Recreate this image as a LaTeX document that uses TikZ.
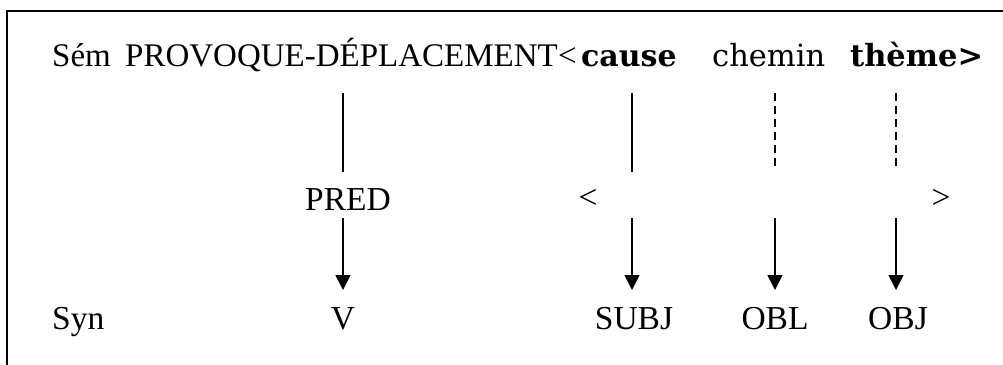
\documentclass[tikz,border=0pt]{standalone}
\usepackage{fontspec}
\setmainfont{Liberation Serif}
\newfontfamily\geo{DejaVu Serif}
\usetikzlibrary{arrows.meta}
\begin{document}
\begin{tikzpicture}[x=1pt,y=-1pt,
  lw/.style={inner sep=0pt, anchor=base west, font=\fontsize{33}{40}\selectfont},
  gw/.style={inner sep=0pt, anchor=base west, font=\geo\fontsize{30.5}{36}\selectfont},
  lc/.style={inner sep=0pt, anchor=base, font=\fontsize{33.5}{40}\selectfont},
  link/.style={line width=1.6pt},
  dlink/.style={line width=1.6pt, dash pattern=on 8pt off 5pt},
  arr/.style={line width=1.6pt, -{Triangle[length=15pt,width=15pt]}}]
\useasboundingbox (0,0) rectangle (1003,364);
\begin{scope}
\clip (0,0) rectangle (1003,364);
\draw[line width=2pt] (7,10.5) rectangle (1012,375);
\end{scope}
% top row
\node[lw] (sem) at (52,66) {Sém};
\node[lw] (prov) at (125,66) {PROVOQUE-DÉPLACEMENT};
\node[lw] (lt) at (558,66) {<};
\node[gw, font=\geo\fontsize{30}{36}\selectfont] (cause) at (581,66) {\bfseries cause};
\node[gw] (chemin) at (712,66) {chemin};
\node[gw] (theme) at (850,66) {\bfseries thème>};
% middle row
\node[lc] (pred) at (348,210) {PRED};
\node[lc] (lt2) at (588,208) {<};
\node[lc] (gt2) at (941,208) {>};
% bottom row
\node[lw, font=\fontsize{33.5}{40}\selectfont] (syn) at (52,329) {Syn};
\node[lc] (v) at (343,329) {V};
\node[lc] (subj) at (634,329) {SUBJ};
\node[lc] (obl) at (775,329) {OBL};
\node[lc] (obj) at (898,329) {OBJ};
% coordinates
\coordinate (a1) at (343,93);  \coordinate (a2) at (343,172);
\coordinate (a3) at (343,218); \coordinate (a4) at (343,290);
\coordinate (b1) at (632,93);  \coordinate (b2) at (632,172);
\coordinate (b3) at (632,218); \coordinate (b4) at (632,290);
\coordinate (c1) at (775,93);  \coordinate (c2) at (775,166);
\coordinate (c3) at (775,218); \coordinate (c4) at (775,290);
\coordinate (d1) at (896,93);  \coordinate (d2) at (896,166);
\coordinate (d3) at (896,218); \coordinate (d4) at (896,290);
\draw[link] (a1) -- (a2);
\draw[link] (b1) -- (b2);
\draw[dlink] (c1) -- (c2);
\draw[dlink] (d1) -- (d2);
\draw[arr] (a3) -- (a4);
\draw[arr] (b3) -- (b4);
\draw[arr] (c3) -- (c4);
\draw[arr] (d3) -- (d4);
\end{tikzpicture}
\end{document}
